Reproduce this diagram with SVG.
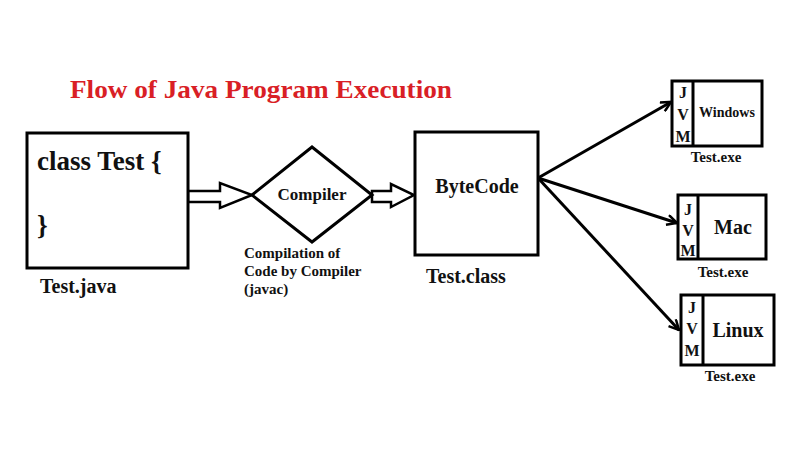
<svg xmlns="http://www.w3.org/2000/svg" width="800" height="450" viewBox="0 0 800 450">
<defs>
<style>
text{font-family:"Liberation Serif","Times New Roman",serif;font-weight:bold;fill:#111}
.box{fill:#fff;stroke:#000;stroke-width:3}
.conn{fill:none;stroke:#000;stroke-width:3}
.blk{fill:#fff;stroke:#000;stroke-width:2.5;stroke-linejoin:miter}
.mid{text-anchor:middle}
</style>
<marker id="ah" viewBox="0 0 12 12" refX="11" refY="6" markerWidth="12" markerHeight="12" markerUnits="userSpaceOnUse" orient="auto">
<path d="M1,1 L11,6 L1,11" fill="none" stroke="#000" stroke-width="2.5"/>
</marker>
</defs>
<rect width="800" height="450" fill="#fff"/>
<text x="70" y="98" font-size="25" style="fill:#d91f26" textLength="382" lengthAdjust="spacingAndGlyphs">Flow of Java Program Execution</text>

<g id="connectors">
<path class="blk" d="M188,191 H220 V183 L252,195 L220,208 V202 H188 Z"/>
<path class="blk" d="M372,191 H391 V184 L414,195 L391,207 V202 H372 Z"/>
<line class="conn" x1="538" y1="178" x2="671" y2="102" marker-end="url(#ah)"/>
<line class="conn" x1="538" y1="178" x2="677" y2="223" marker-end="url(#ah)"/>
<line class="conn" x1="538" y1="178" x2="679" y2="330" marker-end="url(#ah)"/>
</g>

<g id="test-java">
<rect class="box" x="27" y="133" width="161" height="135"/>
<text x="37" y="170" font-size="27">class Test {</text>
<text x="37" y="234" font-size="27">}</text>
<text x="40" y="293" font-size="20">Test.java</text>
</g>

<g id="compiler">
<polygon class="box" points="252,195 312,147 372,195 312,242"/>
<text class="mid" x="312" y="200" font-size="17">Compiler</text>
<text x="244" y="258" font-size="15">Compilation of</text>
<text x="244" y="276" font-size="15">Code by Compiler</text>
<text x="244" y="294" font-size="15">(javac)</text>
</g>

<g id="bytecode">
<rect class="box" x="415" y="132" width="123" height="123"/>
<text class="mid" x="477" y="193" font-size="20">ByteCode</text>
<text x="426" y="283" font-size="20">Test.class</text>
</g>

<g id="windows">
<rect class="box" x="672" y="81" width="90" height="65"/>
<line class="conn" x1="693" y1="81" x2="693" y2="146"/>
<text class="mid" x="683" y="98" font-size="16">J</text>
<text class="mid" x="683" y="120" font-size="16">V</text>
<text class="mid" x="683" y="142" font-size="16">M</text>
<text class="mid" x="727" y="117" font-size="14">Windows</text>
<text class="mid" x="716" y="162" font-size="15">Test.exe</text>
</g>

<g id="mac">
<rect class="box" x="678" y="195" width="88" height="64"/>
<line class="conn" x1="698" y1="195" x2="698" y2="259"/>
<text class="mid" x="688" y="215" font-size="16">J</text>
<text class="mid" x="688" y="236" font-size="16">V</text>
<text class="mid" x="688" y="256" font-size="16">M</text>
<text class="mid" x="733" y="234" font-size="20">Mac</text>
<text class="mid" x="723" y="277" font-size="15">Test.exe</text>
</g>

<g id="linux">
<rect class="box" x="681" y="295" width="93" height="70"/>
<line class="conn" x1="703" y1="295" x2="703" y2="365"/>
<text class="mid" x="692" y="313" font-size="16">J</text>
<text class="mid" x="692" y="334" font-size="16">V</text>
<text class="mid" x="692" y="356" font-size="16">M</text>
<text class="mid" x="738" y="337" font-size="20">Linux</text>
<text class="mid" x="730" y="381" font-size="15">Test.exe</text>
</g>
</svg>
